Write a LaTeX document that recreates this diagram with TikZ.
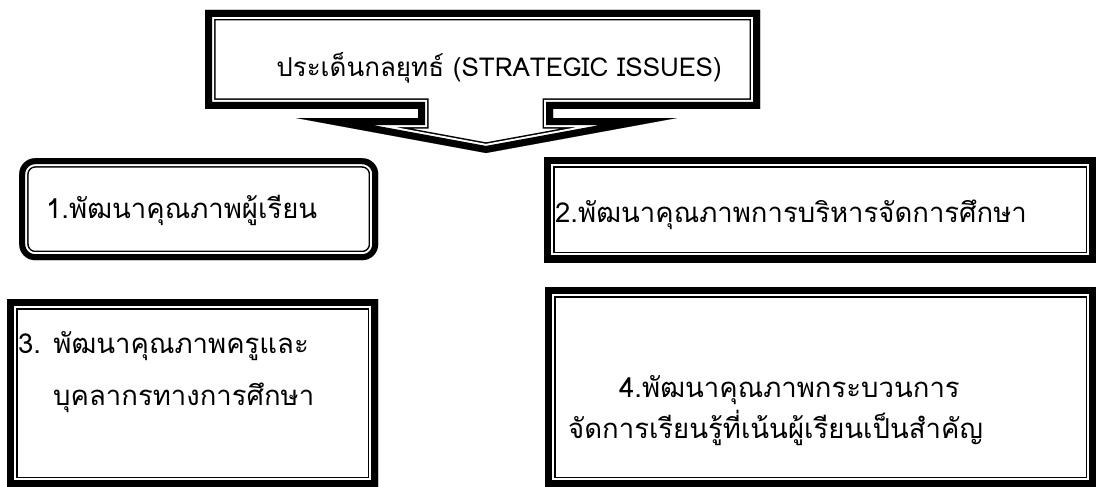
\documentclass[tikz,border=0pt]{standalone}
\usepackage{fontspec}
\newfontfamily\thaifont[Script=Thai]{Loma}
\begin{document}
\begin{tikzpicture}[x=1pt,y=-1pt,
  tframe/.style={inner sep=0pt, anchor=north west, path picture={
    \draw[line width=21pt] (path picture bounding box.north west) rectangle (path picture bounding box.south east);
    \draw[white,line width=18pt] (path picture bounding box.north west) rectangle (path picture bounding box.south east);
    \draw[line width=14pt] (path picture bounding box.north west) rectangle (path picture bounding box.south east);
  }},
  rframe/.style={inner sep=0pt, anchor=north west, rounded corners=16pt, path picture={
    \draw[rounded corners=16pt,line width=19pt] (path picture bounding box.north west) rectangle (path picture bounding box.south east);
    \draw[rounded corners=16pt,white,line width=16pt] (path picture bounding box.north west) rectangle (path picture bounding box.south east);
    \draw[rounded corners=16pt,line width=12pt] (path picture bounding box.north west) rectangle (path picture bounding box.south east);
  }},
  txt/.style={anchor=base west, inner sep=0pt, font=\thaifont\fontsize{27.5}{32}\selectfont}
]
\useasboundingbox[fill=white] (0,0) rectangle (1096,487);
\def\calloutshape{(205,10) -- (760,10) -- (760,109) -- (553,109) -- (553,118) -- (677,118) -- (486,153) -- (296,118) -- (418,118) -- (418,109) -- (205,109) -- cycle}
\begin{scope}
  \clip \calloutshape;
  \draw[line width=21pt, line join=miter] \calloutshape;
  \draw[white, line width=18pt, line join=miter] \calloutshape;
  \draw[line width=14pt, line join=miter] \calloutshape;
\end{scope}
\node[txt, anchor=base, font=\thaifont\fontsize{26}{30}\selectfont] (title) at (499,77) {ประเด็นกลยุทธ์ (STRATEGIC ISSUES)};

\node[rframe, minimum width=359pt, minimum height=102pt] (b1) at (19,158) {};
\node[tframe, minimum width=552pt, minimum height=105pt] (b2) at (544,157) {};
\node[tframe, minimum width=371pt, minimum height=188pt] (b3) at (7,299) {};
\node[tframe, minimum width=551pt, minimum height=200pt] (b4) at (545,287) {};

\node[txt] (t1) at (46,218) {1.พัฒนาคุณภาพผู้เรียน};
\node[txt] (t2) at (555,222) {2.พัฒนาคุณภาพการบริหารจัดการศึกษา};
\node[txt] (t3a) at (18,353) {3. พัฒนาคุณภาพครูและ};
\node[txt] (t3b) at (53,405) {บุคลากรทางการศึกษา};
\node[txt] (t4a) at (619,397) {4.พัฒนาคุณภาพกระบวนการ};
\node[txt] (t4b) at (568,438) {จัดการเรียนรู้ที่เน้นผู้เรียนเป็นสำคัญ};
\end{tikzpicture}
\end{document}
